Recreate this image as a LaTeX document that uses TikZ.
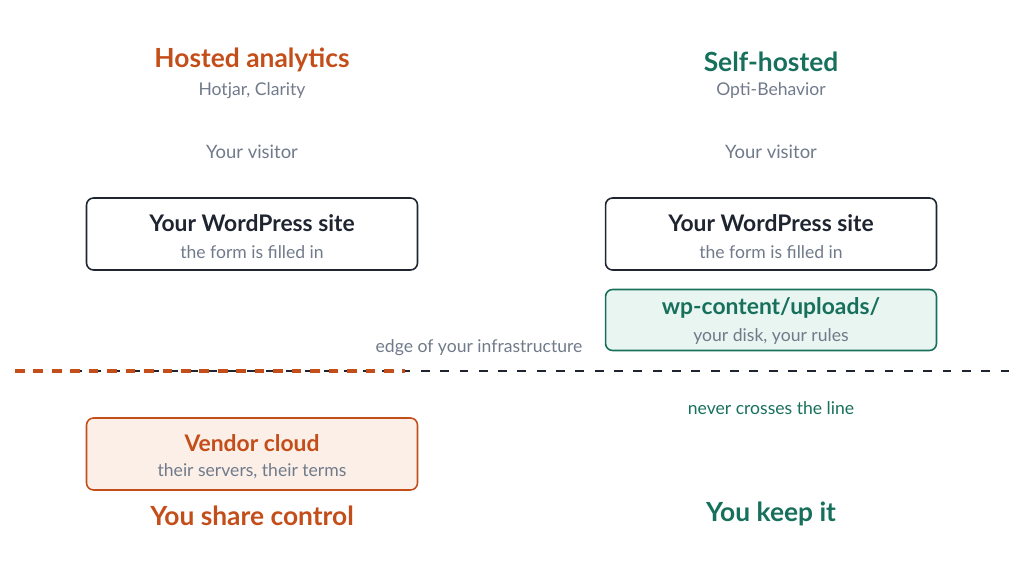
\documentclass[tikz,border=0pt]{standalone}
\usepackage{fontspec}
\setmainfont{Lato}
\usetikzlibrary{positioning}
\definecolor{hostorange}{RGB}{196,78,26}
\definecolor{selfteal}{RGB}{22,112,92}
\definecolor{mutedgray}{RGB}{112,122,138}
\definecolor{inkdark}{RGB}{30,36,48}
\definecolor{tealfill}{RGB}{233,245,241}
\definecolor{orangefill}{RGB}{251,239,231}

\begin{document}
\begin{tikzpicture}[
    x=0.02cm, y=-0.02cm,
    box/.style={draw, rounded corners=4pt, line width=0.9pt, minimum width=6.62cm, align=center},
    title/.style={font=\bfseries\fontsize{15}{17}\selectfont},
    sub/.style={text=mutedgray, font=\fontsize{10.5}{12}\selectfont},
    main/.style={font=\bfseries\fontsize{13}{15}\selectfont},
    note/.style={font=\fontsize{10}{12}\selectfont}
]
    \useasboundingbox (0,0) rectangle (1024,577);

    % Hosted column
    \node[title, text=hostorange] (htitle) at (252,60) {Hosted analytics};
    \node[sub, font=\fontsize{10}{12}\selectfont] (hsub) at (252,91) {Hotjar, Clarity};
    \node[sub] (hvisitor) at (252,152) {Your visitor};
    \node[box, draw=inkdark, minimum height=1.44cm] (hsite) at (252,234) {};
    \node[main, text=inkdark] (hsitet) at (252,223) {Your WordPress site};
    \node[note, text=mutedgray] (hsites) at (252,252) {the form is filled in};
    \node[box, draw=hostorange, fill=orangefill, minimum height=1.44cm] (vendor) at (252,454) {};
    \node[main, text=hostorange] (vendort) at (252,443) {Vendor cloud};
    \node[note, text=mutedgray] (vendors) at (252,471) {their servers, their terms};
    \node[title, text=hostorange] (hshare) at (252,516) {You share control};

    % Self-hosted column
    \node[title, text=selfteal] (stitle) at (771,62) {Self-hosted};
    \node[sub, font=\fontsize{10}{12}\selectfont] (ssub) at (771,91) {Opti-Behavior};
    \node[sub] (svisitor) at (771,152) {Your visitor};
    \node[box, draw=inkdark, minimum height=1.44cm] (ssite) at (771,234) {};
    \node[main, text=inkdark] (ssitet) at (771,223) {Your WordPress site};
    \node[note, text=mutedgray] (ssites) at (771,252) {the form is filled in};
    \node[box, draw=selfteal, fill=tealfill, minimum height=1.22cm] (uploads) at (771,320) {};
    \node[main, text=selfteal] (uploadst) at (771,308) {wp-content/uploads/};
    \node[note, text=mutedgray] (uploadss) at (771,337) {your disk, your rules};
    \node[note, text=selfteal] (never) at (771,408) {never crosses the line};
    \node[title, text=selfteal] (skeep) at (771,514) {You keep it};

    % Boundary
    \coordinate (edgeL) at (15,371);
    \coordinate (edgeR) at (1010,371);
    \coordinate (edgeM) at (405,371);
    \node[sub, font=\fontsize{10}{12}\selectfont] (edge) at (479,348) {edge of your infrastructure};
    \draw[inkdark, line width=0.8pt, dash pattern=on 5pt off 6pt] (edgeL) -- (edgeR);
    \draw[hostorange, line width=2pt, dash pattern=on 5.5pt off 5pt] (edgeL) -- (edgeM);
\end{tikzpicture}
\end{document}
